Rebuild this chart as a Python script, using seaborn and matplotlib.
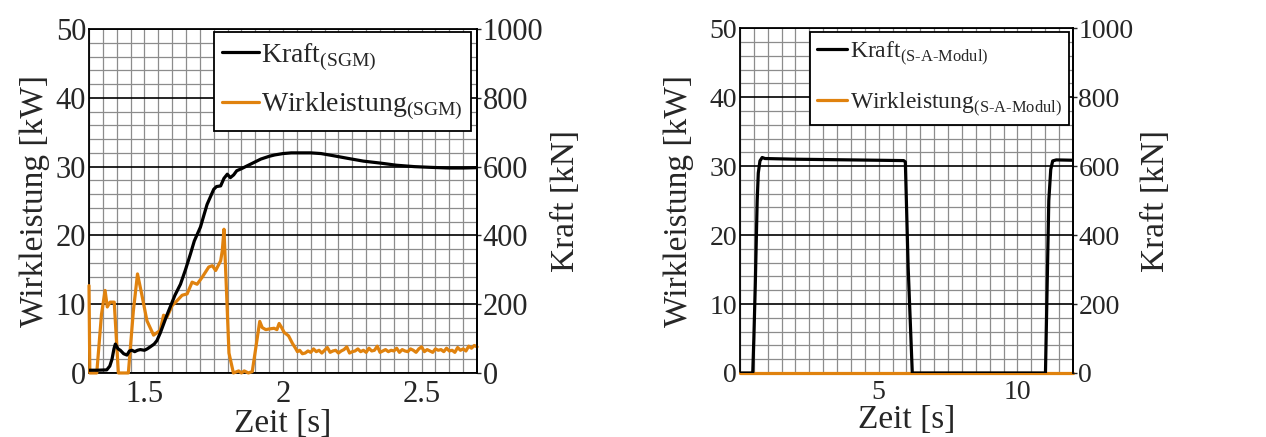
import numpy as np
import pandas as pd
import seaborn as sns
import matplotlib.pyplot as plt
from matplotlib.ticker import MultipleLocator

sns.set_style("white")
plt.rcParams['font.family'] = ['Liberation Serif', 'DejaVu Serif']
plt.rcParams['mathtext.fontset'] = 'custom'
plt.rcParams['mathtext.rm'] = 'Liberation Serif'

ORANGE = '#e0820e'

# --- linkes Diagramm: SGM ---
sgm_kraft_t = [1.300, 1.330, 1.364, 1.375, 1.383, 1.390, 1.395, 1.405, 1.413, 1.425,
               1.437, 1.446, 1.455, 1.465, 1.475, 1.485, 1.500, 1.510, 1.521, 1.535,
               1.545, 1.557, 1.569, 1.580, 1.593, 1.610, 1.630, 1.648, 1.666, 1.680,
               1.702, 1.715, 1.726, 1.738, 1.750, 1.760, 1.775, 1.787, 1.799, 1.810,
               1.822, 1.833, 1.850, 1.870, 1.890, 1.920, 1.950, 1.970, 2.000, 2.030,
               2.065, 2.100, 2.137, 2.180, 2.234, 2.290, 2.354, 2.410, 2.474, 2.530,
               2.596, 2.650, 2.700]
sgm_kraft_kn = [8, 8, 9, 20, 40, 70, 84, 70, 66, 56,
                52, 64, 66, 62, 66, 68, 66, 70, 76, 84,
                94, 116, 142, 166, 192, 226, 258, 300, 346, 384,
                424, 460, 490, 512, 534, 542, 544, 566, 578, 568,
                576, 588, 594, 602, 610, 622, 630, 634, 638, 640,
                640, 640, 638, 632, 624, 616, 610, 604, 600, 598,
                596, 596, 597]

sgm_p_t = [1.300, 1.303, 1.328, 1.345, 1.358, 1.366, 1.376, 1.391, 1.406, 1.442,
           1.460, 1.475, 1.490, 1.509, 1.533, 1.557, 1.569, 1.581, 1.600, 1.615,
           1.636, 1.654, 1.672, 1.690, 1.708, 1.732, 1.745, 1.757, 1.775, 1.781,
           1.787, 1.796, 1.805, 1.821, 1.840, 1.850, 1.860, 1.875, 1.889, 1.916,
           1.925, 1.938, 1.950, 1.968, 1.978, 1.986, 1.995, 2.004, 2.020, 2.034,
           2.045, 2.052,
           2.06, 2.07, 2.08, 2.09, 2.10, 2.11, 2.12, 2.13, 2.14, 2.15,
           2.16, 2.17, 2.18, 2.19, 2.20, 2.21, 2.22, 2.23, 2.24, 2.25,
           2.26, 2.27, 2.28, 2.29, 2.30, 2.31, 2.32, 2.33, 2.34, 2.35,
           2.36, 2.37, 2.38, 2.39, 2.40, 2.41, 2.42, 2.43, 2.44, 2.45,
           2.46, 2.47, 2.48, 2.49, 2.50, 2.51, 2.52, 2.53, 2.54, 2.55,
           2.56, 2.57, 2.58, 2.59, 2.60, 2.61, 2.62, 2.63, 2.64, 2.65,
           2.66, 2.67, 2.68, 2.69, 2.70]
sgm_p_kw = [12.7, 0, 0, 8.5, 12.0, 9.6, 10.3, 10.3, 0, 0,
            9.0, 14.4, 11.5, 7.6, 5.5, 6.2, 8.4, 8.1, 9.8, 10.4,
            11.3, 11.5, 13.2, 12.9, 13.9, 15.4, 15.6, 14.9, 16.3, 17.8,
            20.9, 12.0, 2.9, 0, 0.3, 0, 0.3, 0, 0.2, 7.5,
            6.6, 6.3, 6.4, 6.5, 6.3, 7.2, 6.6, 5.9, 5.4, 4.3,
            3.6, 3.1,
            3.3, 2.8, 2.9, 3.2, 3.0, 3.5, 3.1, 3.3, 2.9, 3.3,
            3.7, 3.0, 3.2, 3.3, 2.9, 3.2, 3.4, 3.8, 2.9, 3.1,
            3.2, 3.5, 3.1, 3.3, 3.0, 3.6, 3.2, 3.3, 3.9, 3.0,
            3.2, 3.4, 3.1, 3.3, 3.2, 3.6, 3.0, 3.4, 3.2, 3.1,
            3.5, 3.3, 3.0, 3.5, 3.8, 3.1, 3.4, 3.2, 3.0, 3.5,
            3.3, 3.4, 3.1, 3.6, 3.2, 3.3, 3.0, 3.7, 3.3, 3.5,
            3.2, 3.9, 3.6, 4.0, 3.8]

# --- rechtes Diagramm: S-A-Modul ---
sam_kraft_t = [0.00, 0.46, 0.50, 0.55, 0.62, 0.66, 0.72, 0.80, 0.90, 2.00,
               4.00, 5.90, 5.96, 6.06, 6.21, 11.01, 11.13, 11.20, 11.27, 11.40,
               12.00]
sam_kraft_kn = [0, 0, 100, 250, 500, 580, 615, 625, 622, 620,
                618, 616, 612, 309, 0, 0, 500, 590, 615, 618,
                617]
sam_p_t = [0.0, 12.0]
sam_p_kw = [0.0, 0.0]

panels = [
    dict(rect=[0.0703, 0.1465, 0.3065, 0.787], xlim=(1.3, 2.7), xminor=0.05,
         xticks=[1.5, 2.0, 2.5], xticklabels=['1.5', '2', '2.5'],
         kt=sgm_kraft_t, kv=sgm_kraft_kn, pt=sgm_p_t, pv=sgm_p_kw,
         sub='(SGM)', leg_anchor=(0.985, 0.99), ylpad=4, tick_fs=22,
         leg_fs=20, leg_sp=0.65),
    dict(rect=[0.5845, 0.1465, 0.263, 0.789], xlim=(0, 12), xminor=0.5,
         xticks=[5, 10], xticklabels=['5', '10'],
         kt=sam_kraft_t, kv=sam_kraft_kn, pt=sam_p_t, pv=sam_p_kw,
         sub='(S-A-Modul)', leg_anchor=(0.988, 0.99), ylpad=11, tick_fs=20,
         leg_fs=17, leg_sp=1.0),
]

fig = plt.figure(figsize=(12.66, 4.37), dpi=100)

for p in panels:
    ax = fig.add_axes(p['rect'])
    ax2 = ax.twinx()
    for side in ['top', 'bottom', 'left']:
        ax2.spines[side].set_visible(False)

    sns.lineplot(x=p['pt'], y=p['pv'], ax=ax, color=ORANGE, lw=2.3,
                 label='Wirkleistung$_{\\text{' + p['sub'] + '}}$', legend=False,
                 clip_on=False, zorder=5)
    sns.lineplot(x=p['kt'], y=p['kv'], ax=ax2, color='black', lw=2.3,
                 label='Kraft$_{\\text{' + p['sub'] + '}}$', legend=False)

    ax.set_xlim(*p['xlim'])
    ax.set_ylim(0, 50)
    ax2.set_ylim(0, 1000)
    ax.set_yticks([0, 10, 20, 30, 40, 50])
    ax.yaxis.set_minor_locator(MultipleLocator(2))
    ax2.set_yticks([0, 200, 400, 600, 800, 1000])
    ax.set_xticks(p['xticks'], labels=p['xticklabels'])
    ax.xaxis.set_minor_locator(MultipleLocator(p['xminor']))

    ax.grid(True, which='minor', axis='both', color='#8c8c8c', lw=0.9)
    ax.grid(True, which='major', axis='x', color='#8c8c8c', lw=0.9)
    ax.grid(True, which='major', axis='y', color='black', lw=1.2)
    ax.set_axisbelow(True)

    ax.tick_params(axis='x', which='major', direction='in', length=4, width=1,
                   labelsize=p['tick_fs'], pad=5)
    ax.tick_params(axis='both', which='minor', length=0)
    ax.tick_params(axis='y', direction='in', length=0, labelsize=p['tick_fs'], pad=2)
    ax2.tick_params(axis='y', which='major', direction='out', length=3, width=1,
                    labelsize=p['tick_fs'], pad=1)

    ax.set_xlabel('Zeit [s]', fontsize=24, labelpad=0)
    ax.set_ylabel('Wirkleistung [kW]', fontsize=24, labelpad=p['ylpad'])
    ax2.set_ylabel('Kraft [kN]', fontsize=24, labelpad=5)

    for a in (ax, ax2):
        for s in a.spines.values():
            s.set_color('black')
            s.set_linewidth(1.3)

    h1, l1 = ax2.get_legend_handles_labels()
    h2, l2 = ax.get_legend_handles_labels()
    leg = ax2.legend(h1 + h2, l1 + l2, loc='upper right', bbox_to_anchor=p['leg_anchor'],
                     borderaxespad=0, fontsize=p['leg_fs'], handlelength=1.3,
                     handletextpad=0.1, frameon=True, fancybox=False, framealpha=1,
                     edgecolor='black', borderpad=0.3, labelspacing=p['leg_sp'])
    leg.get_frame().set_linewidth(1.3)

fig.savefig('out.png', dpi=100)
